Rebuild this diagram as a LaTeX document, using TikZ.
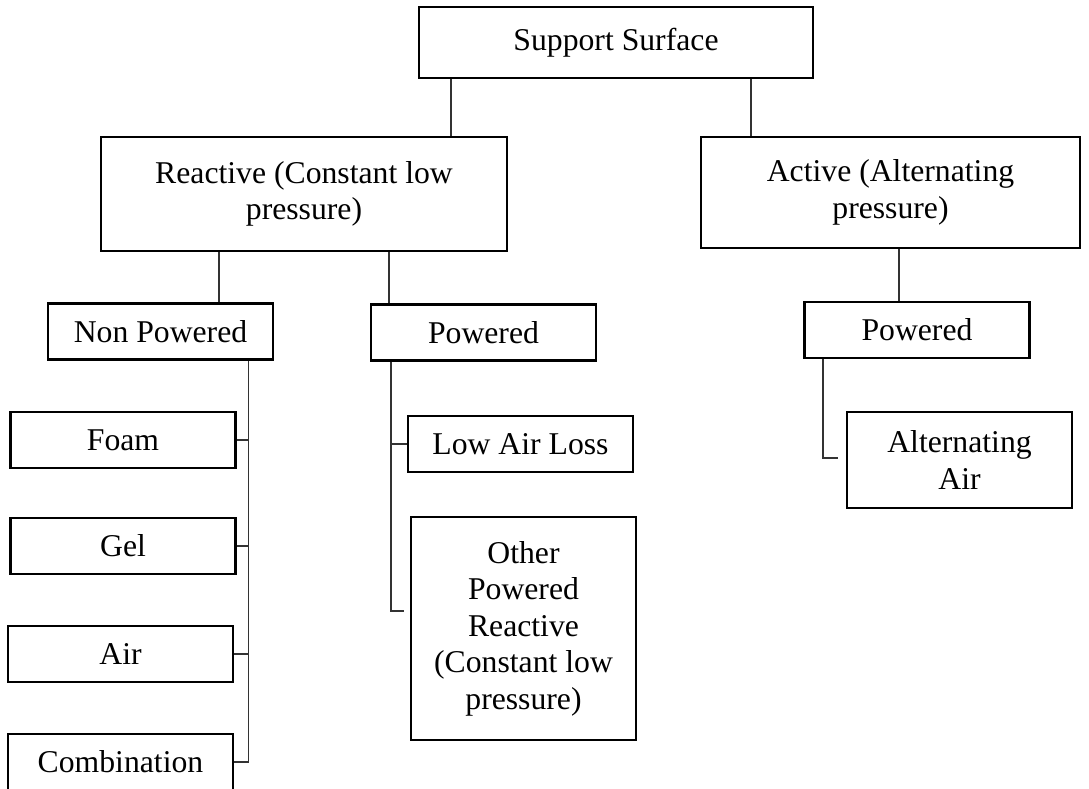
\documentclass[tikz,border=0pt]{standalone}
\usepackage{fontspec}
\setmainfont{Liberation Serif}
\usetikzlibrary{positioning}
\tikzset{
  box/.style={draw, line width=2.2pt, inner sep=0pt, align=center,
    minimum width=225pt, minimum height=56pt,
    font=\fontsize{31.7}{36.5}\selectfont},
  link/.style={line width=1.2pt, black!80}
}

\begin{document}
\begin{tikzpicture}[x=1pt, y=-1pt]
\useasboundingbox (0,0) rectangle (1089,789);

\node[box, minimum width=394pt, minimum height=71pt] (surf) at (616,42.5) {Support Surface};

\node[box, minimum width=406pt, minimum height=114pt] (react) at (304,194) {Reactive (Constant low\\pressure)};
\node[box, minimum width=379pt, minimum height=111pt] (act) at (890.5,192.5) {Active (Alternating\\pressure)};

\node[box] (nonpow) at (160.5,331.5) {Non Powered};
\node[box] (powl) at (483.5,332.5) {Powered};
\node[box] (powr) at (917,330) {Powered};

\node[box] (foam) at (123,440) {Foam};
\node[box] (gel) at (123,546) {Gel};
\node[box] (air) at (120.5,654) {Air};
\node[box] (comb) at (120.5,762) {Combination};

\node[box] (lowair) at (520.5,444) {Low Air Loss};
\node[box, minimum height=223pt] (other) at (523.5,628.5) {Other\\Powered\\Reactive\\(Constant low\\pressure)};

\node[box, minimum height=96pt] (altair) at (959.5,460) {Alternating\\Air};

\draw[link] ([xshift=-165pt]surf.south) -- ([xshift=-165pt]surf.south |- react.north);
\draw[link] ([xshift=135pt]surf.south) -- ([xshift=135pt]surf.south |- act.north);

\draw[link] ([xshift=-85pt]react.south) -- ([xshift=-85pt]react.south |- nonpow.north);
\draw[link] ([xshift=85pt]react.south) -- ([xshift=85pt]react.south |- powl.north);
\draw[link] ([xshift=8.5pt]act.south) -- ([xshift=8.5pt]act.south |- powr.north);

\coordinate (npbus) at ([xshift=88pt]nonpow.south);
\draw[link] (npbus) |- (comb.east);
\foreach \n in {foam,gel,air}
  \draw[link] (\n.east) -- (\n.east -| npbus);

\coordinate (plbus) at ([xshift=-92.5pt]powl.south);
\draw[link] (plbus) |- ([xshift=-6pt,yshift=17.5pt]other.west);
\draw[link] (lowair.west) -- (lowair.west -| plbus);

\draw[link] ([xshift=-94pt]powr.south) |- ([xshift=-8pt,yshift=2pt]altair.west);

\end{tikzpicture}
\end{document}
